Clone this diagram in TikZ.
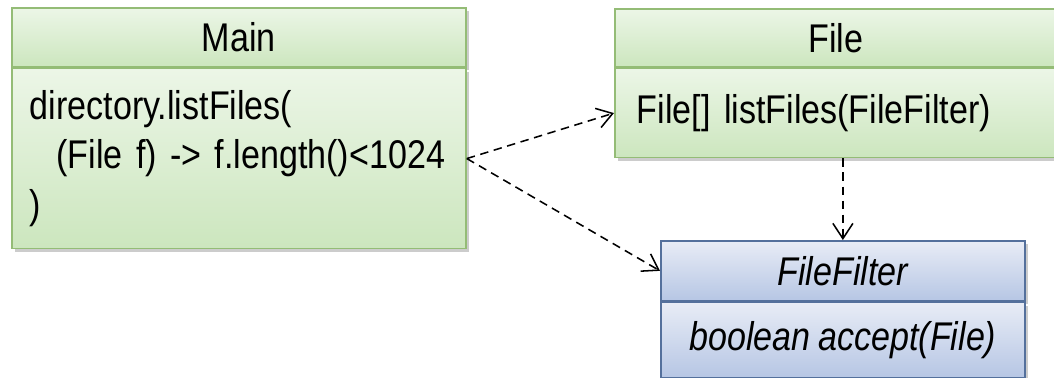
\documentclass[tikz,border=0pt]{standalone}
\usepackage{fontspec}
\setmainfont{Liberation Sans}[FakeStretch=0.85]
\usetikzlibrary{positioning,shadows,arrows.meta}

\definecolor{greenline}{RGB}{148,188,118}
\definecolor{greentop}{RGB}{236,246,231}
\definecolor{greenbot}{RGB}{204,230,190}
\definecolor{blueline}{RGB}{84,112,156}
\definecolor{bluetop}{RGB}{232,236,246}
\definecolor{bluebot}{RGB}{182,198,228}

% narrow word spacing for the current font
\newcommand\tightspace{\fontdimen2\font=5.5pt\fontdimen3\font=0pt\fontdimen4\font=0pt}

\tikzset{
  classbox/.style={draw=greenline, line width=1.2pt, top color=greentop, bottom color=greenbot,
    drop shadow={shadow xshift=2.5pt, shadow yshift=-2.5pt, opacity=0.4},
    inner sep=0pt, font=\fontsize{28.5}{35.5}\selectfont\tightspace},
  ifacebox/.style={classbox, draw=blueline, top color=bluetop, bottom color=bluebot,
    font=\fontsize{28.5}{35.5}\selectfont\itshape\tightspace},
  uses/.style={dashed, dash pattern=on 6pt off 4pt, line width=1.1pt,
    -{Straight Barb[length=0.38cm, width=0.5cm]}}
}

\begin{document}
\begin{tikzpicture}[x=0.025cm, y=-0.025cm]
  \useasboundingbox (0,0) rectangle (1054,377);

  % Main
  \node[classbox, anchor=north west, minimum width=11.35cm, minimum height=1.475cm] (mainhead) at (11,7) {Main};
  \node[classbox, below=0pt of mainhead, minimum width=11.35cm, minimum height=4.5cm,
    inner xsep=0.45cm, text width=10.45cm, align=left] (mainbody)
    {directory.listFiles(\\\mbox{\ \ (File f) -> f.length()<1024}\\)};

  % File
  \node[classbox, anchor=north west, minimum width=11.05cm, minimum height=1.45cm] (filehead) at (614,8) {File};
  \node[classbox, below=0pt of filehead, minimum width=11.05cm, minimum height=2.225cm,
    inner xsep=0.55cm, text width=9.95cm, align=left] (filebody)
    {File[] listFiles(FileFilter)};

  % FileFilter
  \node[ifacebox, anchor=north west, minimum width=9.1cm, minimum height=1.5cm] (ffhead) at (660,240) {FileFilter};
  \node[ifacebox, below=0pt of ffhead, minimum width=9.1cm, minimum height=1.875cm] (ffbody)
    {boolean accept(File)};

  % dependencies
  \draw[uses] (mainbody.east) -- (filebody.west);
  \draw[uses] (mainbody.east) -- (ffhead.west);
  \draw[uses] (filebody.south -| ffhead.north) -- (ffhead.north);
\end{tikzpicture}
\end{document}
